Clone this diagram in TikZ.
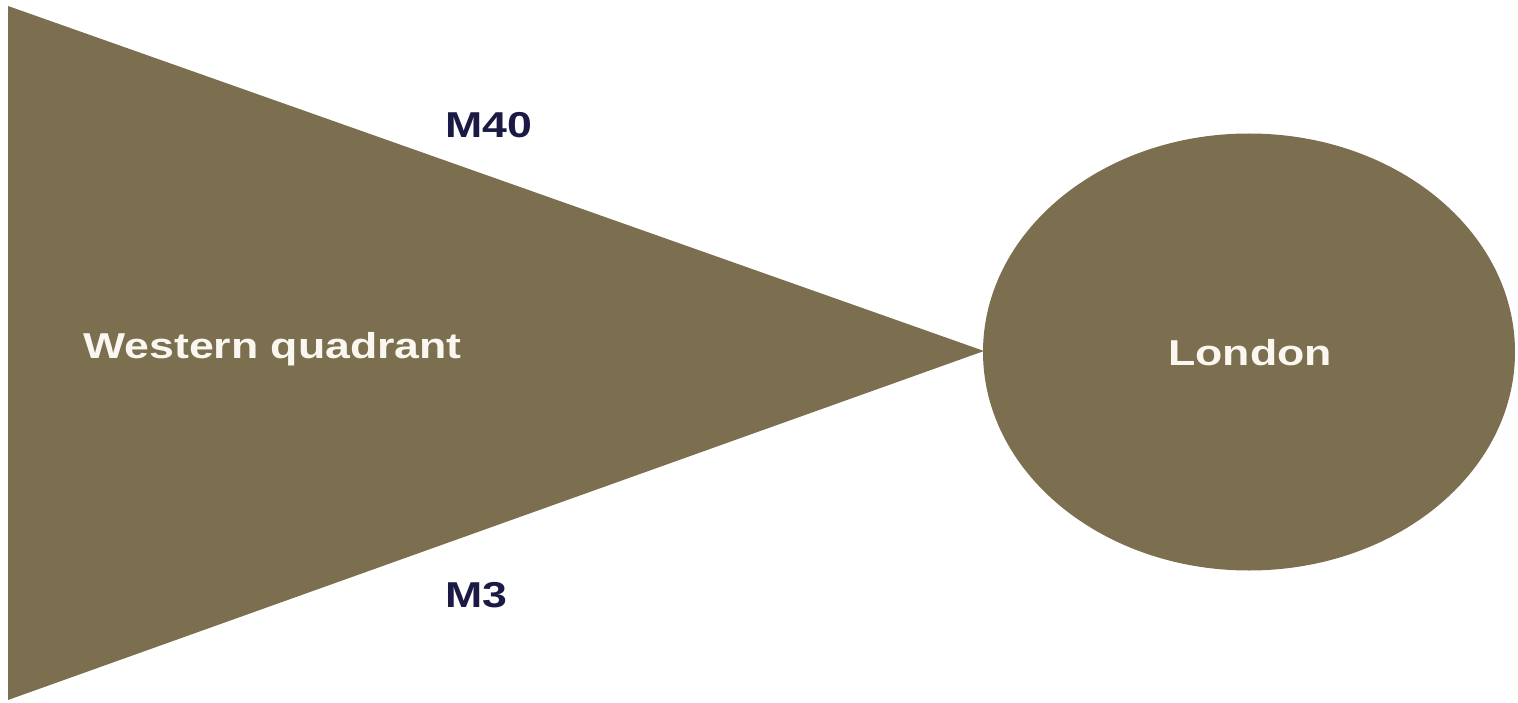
\documentclass[tikz,border=0pt]{standalone}
\usepackage{fontspec}
\newfontfamily\labfont[FakeStretch=1.24]{Liberation Sans}
\usetikzlibrary{shapes.geometric}
\definecolor{olive}{HTML}{7B6F4F}
\definecolor{navy}{HTML}{1B1A45}
\definecolor{cream}{HTML}{FAF7F0}
\tikzset{
  shapefill/.style={fill=olive, draw=none},
  whitelab/.style={text=cream, font=\labfont\bfseries\fontsize{36}{40}\selectfont, inner sep=0pt, anchor=base west},
  roadlab/.style={text=navy, font=\labfont\bfseries\fontsize{36}{40}\selectfont, inner sep=0pt, anchor=base west}
}
\begin{document}
\begin{tikzpicture}[x=1pt,y=-1pt]
\useasboundingbox (0,0) rectangle (1518,703);
\coordinate (tl) at (8,6);
\coordinate (bl) at (8,700);
\coordinate (apex) at (984,351);
\fill[olive] (tl) -- (apex) -- (bl) -- cycle;
\node[ellipse, shapefill, minimum width=532pt, minimum height=437pt, inner sep=0pt] (london) at (1249,352) {};
\node[whitelab] (wq) at (83,358) {Western quadrant};
\node[whitelab] (lon) at (1168,365) {London};
\node[roadlab] (m40) at (445,138) {M40};
\node[roadlab] (m3) at (445,607) {M3};
\end{tikzpicture}
\end{document}
